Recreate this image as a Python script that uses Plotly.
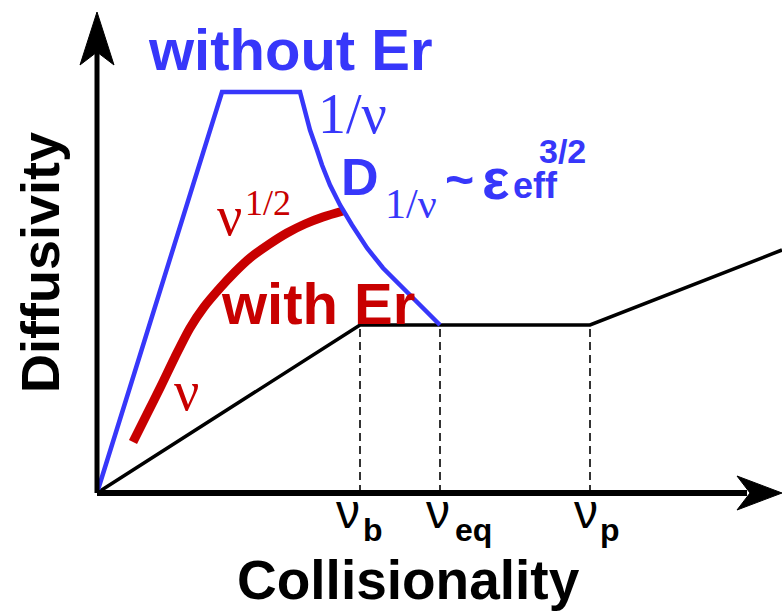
import plotly.graph_objects as go

# ---- data (schematic units: x = collisionality, y = diffusivity) ----
blue_x = [0, 125, 203, 208, 213, 220, 225, 233, 243, 255, 270, 286, 303, 323, 343]
blue_y = [0, 401, 401, 383, 363, 343, 328, 308, 288, 268, 245, 225, 208, 188, 168]

red_x = [36, 50, 64, 78, 93, 107, 123, 138, 153, 171, 190, 208, 226, 246]
red_y = [51, 79, 107, 136, 165, 186, 205, 221, 235, 248, 260, 269, 276, 282]

black_x = [0, 263, 493, 685]
black_y = [0, 168, 168, 243]

tick_vals = [263, 343, 493]
tick_greek = ["ν", "ν", "ν"]
tick_subs = ["b", "eq", "p"]
plateau = 168

X_MIN, X_END = -97, 685
Y_MIN, Y_END = -120, 481

BLUE = "rgb(55,55,250)"
RED = "rgb(200,0,0)"
SANS = "Liberation Sans, Arial, sans-serif"
SERIF = "Liberation Serif, Times New Roman, serif"

fig = go.Figure()

# dashed verticals
for v in tick_vals:
    fig.add_trace(go.Scatter(x=[v, v], y=[0, plateau], mode="lines",
                             line=dict(color="black", width=1.6, dash="8px,5px"),
                             hoverinfo="skip", showlegend=False))

fig.add_trace(go.Scatter(x=black_x, y=black_y, mode="lines",
                         line=dict(color="black", width=3.5), showlegend=False))
fig.add_trace(go.Scatter(x=red_x, y=red_y, mode="lines",
                         line=dict(color=RED, width=9, shape="spline", smoothing=0.8),
                         showlegend=False))
fig.add_trace(go.Scatter(x=blue_x, y=blue_y, mode="lines",
                         line=dict(color=BLUE, width=4.5), showlegend=False))

# axes with arrowheads
shapes = [
    dict(type="line", xref="x", yref="y", x0=0, y0=0, x1=X_END - 35, y1=0,
         line=dict(color="black", width=6)),
    dict(type="line", xref="x", yref="y", x0=0, y0=0, x1=0, y1=Y_END - 35,
         line=dict(color="black", width=5)),
    dict(type="path", xref="x", yref="y",
         path=f"M {X_END},0 L {X_END-45},17 L {X_END-32},0 L {X_END-45},-17 Z",
         fillcolor="black", line=dict(color="black", width=1)),
    dict(type="path", xref="x", yref="y",
         path=f"M 0,{Y_END} L -17,{Y_END-53} L 0,{Y_END-40} L 17,{Y_END-53} Z",
         fillcolor="black", line=dict(color="black", width=1)),
]

def px2d(px, py):
    return px - 97, 493 - py

ann = []
def add(text, px, py, size, color, family=SANS, weight="normal", angle=0):
    x, y = px2d(px, py)
    ann.append(dict(text=text, x=x, y=y, xref="x", yref="y", showarrow=False,
                    xanchor="center", yanchor="middle", textangle=angle,
                    font=dict(size=size, color=color, family=family, weight=weight)))

add("without Er", 290, 49, 58, BLUE, weight="bold")
add("1/ν", 352, 114, 56, BLUE, family=SERIF)
add("D", 360, 177, 52, BLUE, weight="bold")
add("1/ν", 411, 204, 42, BLUE, family=SERIF)
add("~", 459, 180, 50, BLUE, weight="bold")
add("ε", 496, 178, 58, BLUE, weight="bold")
add("eff", 535, 185, 36, BLUE, weight="bold")
add("3/2", 562, 151, 34, BLUE, weight="bold")
add("ν", 229, 216, 56, RED, family=SERIF)
add("1/2", 268, 203, 36, RED, family=SERIF)
add("with Er", 318, 303, 58, RED, weight="bold")
add("ν", 186, 391, 56, RED, family=SERIF)

greek_px = [348, 438, 586]
sub_px = [373, 473, 610]
for v, g, s, gp, sp in zip(tick_vals, tick_greek, tick_subs, greek_px, sub_px):
    add(g, gp, 511, 48, "black")
    add(s, sp, 530, 32, "black", weight="bold")

add("Collisionality", 408, 580, 55, "black", weight="bold")
add("Diffusivity", 40, 263, 54, "black", weight="bold", angle=-90)

fig.update_layout(
    width=782, height=613, autosize=False,
    margin=dict(l=0, r=0, t=0, b=0),
    paper_bgcolor="white", plot_bgcolor="white",
    xaxis=dict(range=[X_MIN, X_END], visible=False, fixedrange=True),
    yaxis=dict(range=[Y_MIN, 493], visible=False, fixedrange=True),
    shapes=shapes, annotations=ann, showlegend=False,
)

fig.write_html("out.html")
